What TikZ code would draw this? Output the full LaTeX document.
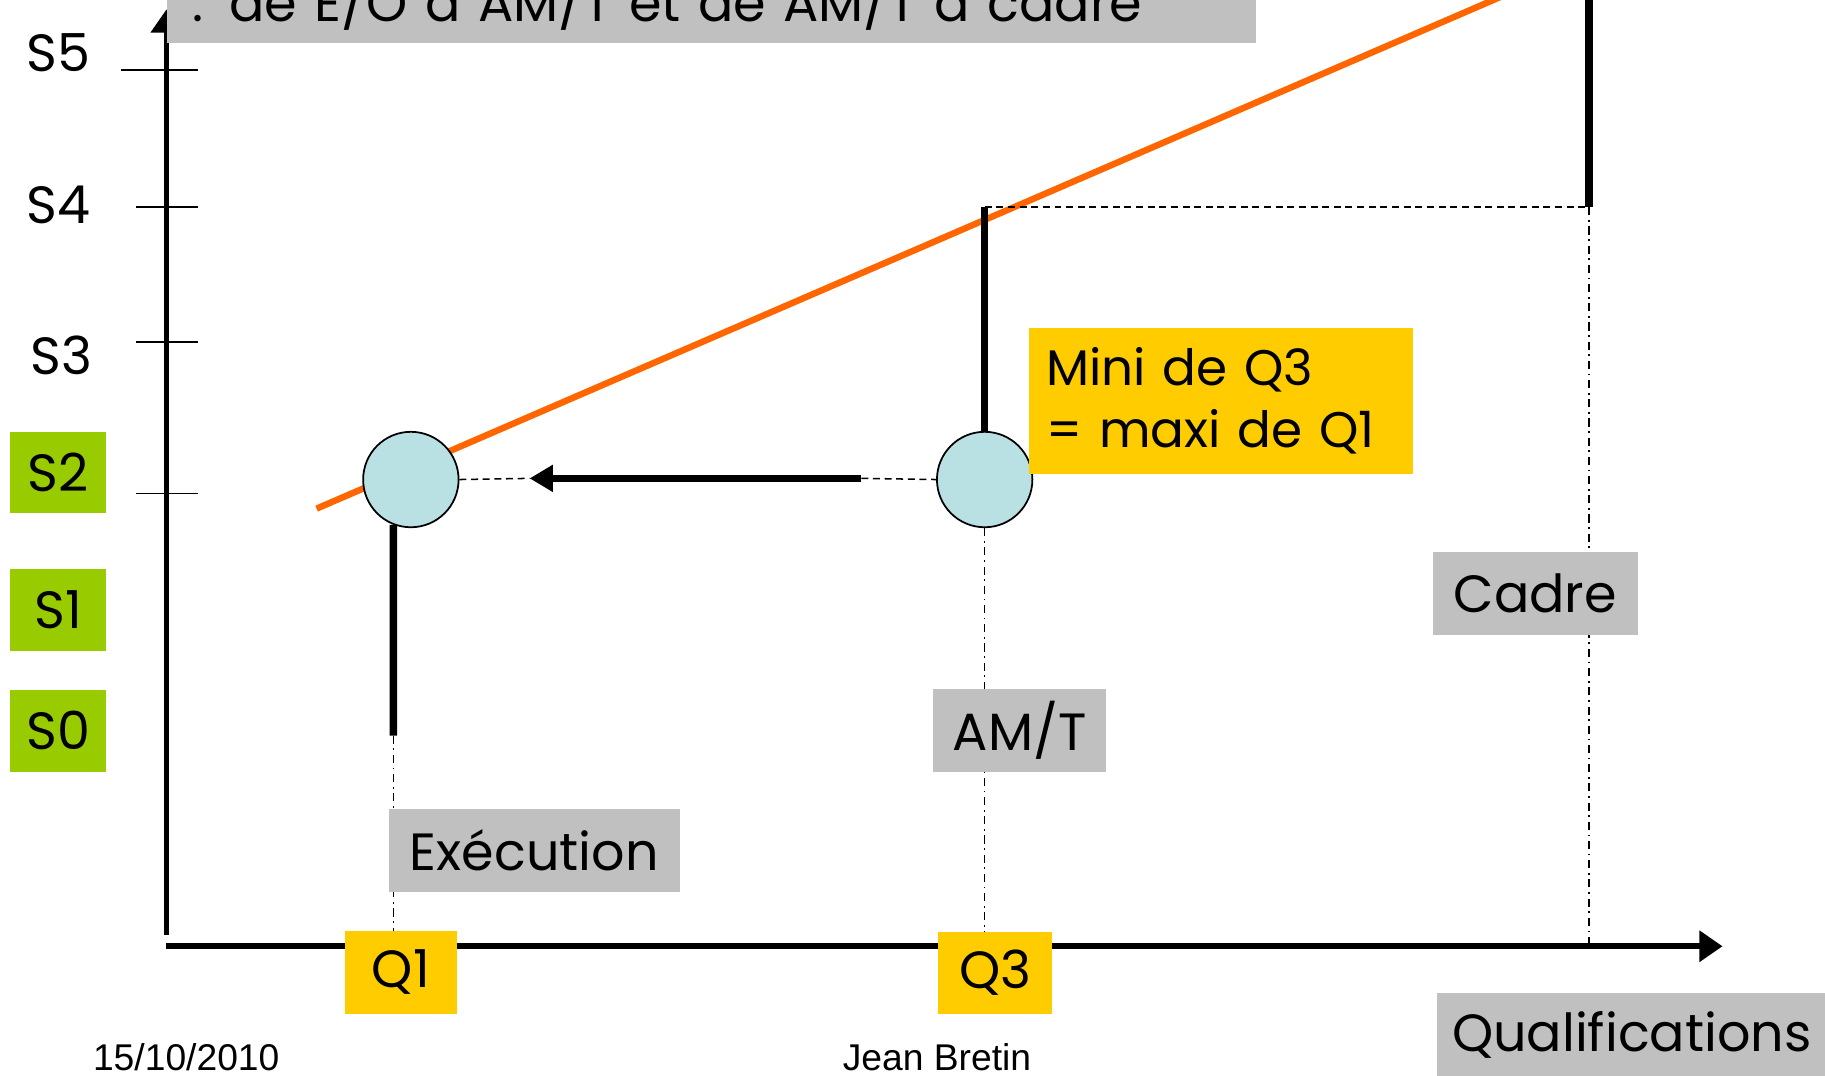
\documentclass[tikz,border=0pt]{standalone}
\usepackage{fontspec}
\setmainfont{Poppins}
\newfontfamily\footfont{Liberation Sans}
\usetikzlibrary{arrows.meta,positioning}
\definecolor{labgray}{HTML}{C0C0C0}
\definecolor{labyellow}{HTML}{FFCC00}
\definecolor{labgreen}{HTML}{99CC00}
\definecolor{dotblue}{HTML}{B9E0E3}
\definecolor{slopeorange}{HTML}{FF6600}
\begin{document}
\begin{tikzpicture}[x=1pt,y=-1pt,
    every node/.style={inner sep=0pt,font=\fontsize{45}{52}\selectfont},
    graybox/.style={fill=labgray,minimum height=71pt},
    yellowbox/.style={fill=labyellow,minimum height=71pt},
    greenbox/.style={fill=labgreen,minimum width=82pt,minimum height=70pt},
    dot/.style={circle,draw,line width=1.5pt,fill=dotblue,minimum size=82pt},
    axis/.style={line width=5pt,-{Triangle[length=20pt,width=26pt]}},
    level/.style={line width=6.5pt},
    guide/.style={line width=1.3pt,dash pattern=on 7pt off 4pt on 1.5pt off 4pt},
    link/.style={line width=1.3pt,dash pattern=on 6pt off 4pt}]
    \useasboundingbox (0,0) rectangle (1568,924);
    % axes
    \coordinate (O) at (143,813);
    \coordinate (xend) at (1480,813);
    \coordinate (ytop) at (143,8);
    \draw[axis] (O) -- (xend);
    \draw[axis] ([yshift=10pt]O) -- (ytop);
    \draw[line width=1.2pt] (104,60) -- (170,60);
    \foreach \y in {178,294,424}
        \draw[line width=1.2pt] (117,\y) -- (170,\y);
    \node (s5) at (50,45) {S5};
    \node (s4) at (50,176) {S4};
    \node (s3) at (53,305) {S3};
    \node[greenbox] (s2) at (50,406) {S2};
    \node[greenbox] (s1) at (50,524) {S1};
    \node[greenbox] (s0) at (50,628) {S0};
    \node[graybox,anchor=north west,minimum width=936pt,inner xsep=22pt,
        text width=892pt,align=left,text height=58pt,text depth=19pt] (title) at (143,-40)
        {. de E/O à AM/T et de AM/T à cadre};
    % slope
    \draw[slopeorange,line width=5.5pt] (272,437) -- (1290,-3);
    \node[dot] (c1) at (353,412) {};
    \node[dot] (c3) at (846,412) {};
    \coordinate (q1low) at (338,632);
    \coordinate (s4pt) at (846,178);
    \coordinate (cadpt) at (1365,178);
    \coordinate (arrS) at (740,411);
    \coordinate (arrE) at (455,411);
    \draw[level] (c1.-111) -- (q1low);
    \draw[guide] (q1low) -- (q1low |- O);
    \draw[level] (c3.north) -- (s4pt);
    \draw[link] (s4pt) -- (cadpt);
    \draw[level] (cadpt) -- (1365,-5);
    \draw[guide] (cadpt) -- (cadpt |- O);
    \draw[guide] (c3.south) -- (c3.south |- O);
    \draw[link] (c1.east) -- (arrE);
    \draw[link] (arrS) -- (c3.west);
    \draw[line width=6.5pt,-{Triangle[length=20pt,width=22pt]}] (arrS) -- (arrE);
    % labels
    \node[yellowbox,minimum width=330pt,minimum height=125pt,text width=300pt,
        align=left,font=\fontsize{43}{53}\selectfont] (mini) at (1049,344.5)
        {Mini de Q3\\= maxi de Q1};
    \node[yellowbox,minimum width=97pt] (q1) at (344.5,835.5) {Q1};
    \node[yellowbox,minimum width=98pt] (q3) at (855,836) {Q3};
    \node[graybox,minimum width=250pt] (exec) at (459,730.5) {Exécution};
    \node[graybox,minimum width=148pt] (amt) at (876,627.5) {AM/T};
    \node[graybox,minimum width=176pt] (cadre) at (1319,510) {Cadre};
    \node[graybox,minimum width=334pt,minimum height=72pt] (qualif) at (1402,889) {Qualifications};
    \node[font=\footfont\fontsize{32}{36}\selectfont] (date) at (160,908) {15/10/2010};
    \node[font=\footfont\fontsize{32}{36}\selectfont] (author) at (805,908) {Jean Bretin};
\end{tikzpicture}
\end{document}
